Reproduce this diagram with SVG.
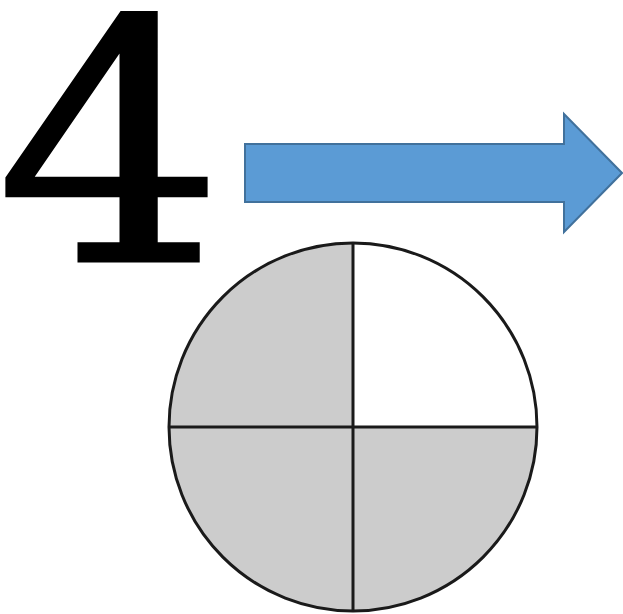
<svg xmlns="http://www.w3.org/2000/svg" width="623" height="614" viewBox="0 0 623 614">
<style>
.g{fill:#cccccc}
.ln{stroke:#1a1a1a;stroke-width:3;fill:none}
</style>
<rect width="623" height="614" fill="#ffffff"/>
<g id="digit">
<text x="110" y="261" text-anchor="middle" font-family="DejaVu Serif, serif" font-size="335" fill="#000" stroke="#000" stroke-width="3" transform="translate(110,0) scale(1.07,1) translate(-110,0)">4</text>
</g>
<g id="arrow">
<path d="M245,144 H564 V114 L622,173 L564,232 V202 H245 Z" fill="#5b9bd5" stroke="#41719c" stroke-width="2"/>
</g>
<g id="circle">
<path class="g" d="M353,427 V244 A184,184 0 0 0 169,427 Z"/>
<path class="g" d="M353,427 H169 A184,184 0 0 0 353,611 Z"/>
<path class="g" d="M353,427 V611 A184,184 0 0 0 537,427 Z"/>
<circle class="ln" cx="353" cy="427" r="184"/>
<line class="ln" x1="353" y1="243" x2="353" y2="611"/>
<line class="ln" x1="169" y1="427" x2="537" y2="427"/>
</g>
</svg>
